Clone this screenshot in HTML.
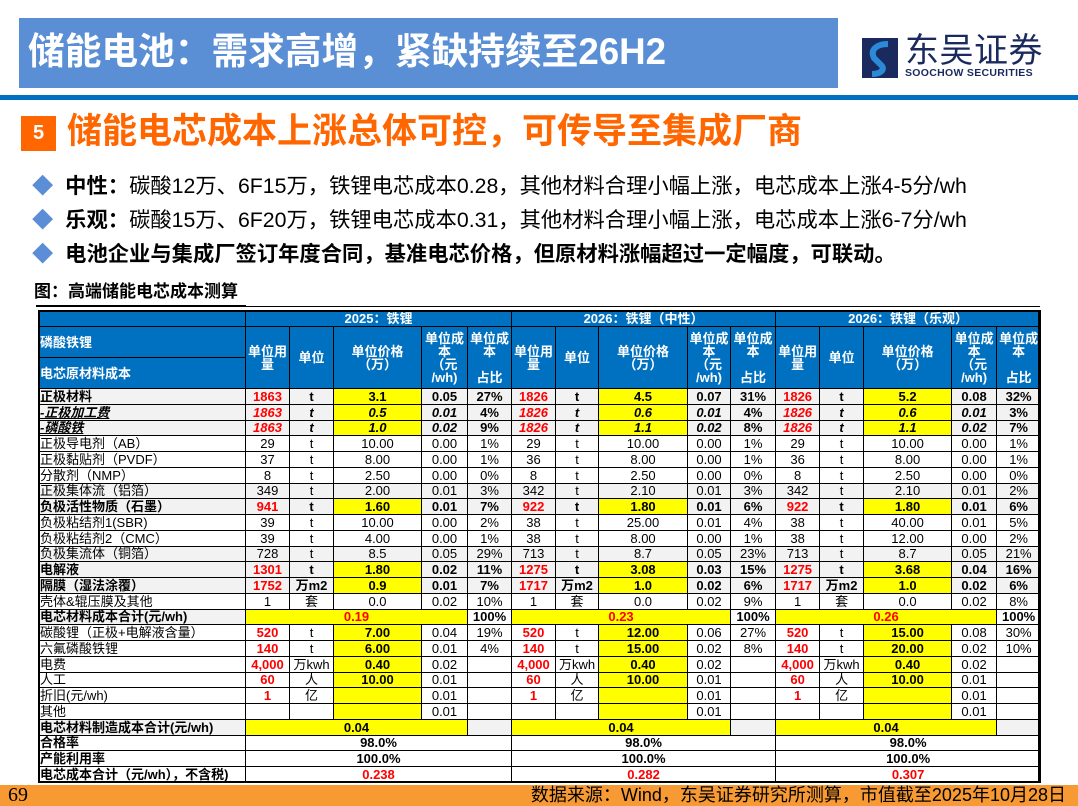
<!DOCTYPE html>
<html><head><meta charset="utf-8">
<style>
*{margin:0;padding:0;box-sizing:border-box}
body{width:1078px;height:806px;background:#fff;position:relative;overflow:hidden;font-family:"Liberation Sans","Noto Sans CJK SC",sans-serif}
.abs{position:absolute}
#tb{position:absolute;left:38px;top:310px;border-collapse:collapse;table-layout:fixed;width:1002px;font-size:13px}
#tb td{border:1px solid #000;height:15px;line-height:11px;text-align:center;white-space:nowrap;overflow:hidden;padding:0}
#tb tr{height:15.75px}
#tb td.l{text-align:left;padding-left:1px}
#tb .h{background:#0070C0;color:#fff;font-weight:bold;line-height:13px}
.r{color:#f00}.b{font-weight:bold}.i{font-style:italic}.y{background:#ff0}.g{background:#f2f2f2}
</style></head><body>
<div class="abs" style="left:19px;top:18px;width:819px;height:70px;background:#5A8FD6"></div>
<div class="abs" style="left:28px;top:30px;color:#fff;font-size:36.7px;font-weight:bold;line-height:44px">储能电池：需求高增，紧缺持续至26H2</div>
<div class="abs" style="left:862px;top:38px;width:36px;height:40px;background:#1a2a5e"></div>
<svg class="abs" style="left:862px;top:38px" width="36" height="40"><path d="M26 6 C14 6 8 12 12 20 L20 28 C23 32 18 36 10 36" stroke="#2a8ad8" stroke-width="6" fill="none"/></svg>
<div class="abs" style="left:905px;top:33px;color:#1a2a5e;font-size:34px;line-height:36px;letter-spacing:0.5px">东吴证券</div>
<div class="abs" style="left:905px;top:68px;color:#1a2a5e;font-size:10.5px;font-weight:bold;line-height:11px;letter-spacing:0.3px">SOOCHOW SECURITIES</div>
<div class="abs" style="left:0;top:95px;width:1078px;height:5px;background:#0070C0"></div>
<div class="abs" style="left:21px;top:116px;width:35px;height:35px;background:#FF6600;color:#fff;font-weight:bold;font-size:20px;text-align:center;line-height:35px">5</div>
<div class="abs" style="left:67px;top:111px;color:#FF6600;font-size:35px;font-weight:bold;line-height:42px">储能电芯成本上涨总体可控，可传导至集成厂商</div>
<div class="abs" style="left:32px;top:172px;font-size:21.3px;line-height:28px;color:#000;white-space:nowrap">
<div style="height:34px"><span style="color:#5B8ED6">◆</span>&nbsp; <b>中性：</b>碳酸12万、6F15万，铁锂电芯成本0.28，其他材料合理小幅上涨，电芯成本上涨4-5分/wh</div>
<div style="height:34px"><span style="color:#5B8ED6">◆</span>&nbsp; <b>乐观：</b>碳酸15万、6F20万，铁锂电芯成本0.31，其他材料合理小幅上涨，电芯成本上涨6-7分/wh</div>
<div><span style="color:#5B8ED6">◆</span>&nbsp; <b>电池企业与集成厂签订年度合同，基准电芯价格，但原材料涨幅超过一定幅度，可联动。</b></div>
</div>
<div class="abs" style="left:34px;top:281px;font-size:17px;font-weight:bold;line-height:22px">图：高端储能电芯成本测算</div>
<div class="abs" style="left:36px;top:306px;width:1004px;height:1px;background:#000"></div>
<div class="abs" style="left:36px;top:305px;width:210px;height:2px;background:#000"></div>
<table id="tb">
<colgroup><col style="width:207px"><col style="width:44px"><col style="width:44px"><col style="width:88px"><col style="width:46px"><col style="width:44px"><col style="width:44px"><col style="width:43px"><col style="width:89px"><col style="width:43px"><col style="width:45px"><col style="width:44px"><col style="width:44px"><col style="width:88px"><col style="width:45px"><col style="width:44px"></colgroup>
<tr style="height:16px"><td class="h"></td><td class="h" colspan="5">2025：铁锂</td><td class="h" colspan="5">2026：铁锂（中性）</td><td class="h" colspan="5">2026：铁锂（乐观）</td></tr>
<tr style="height:31px"><td class="h l" style="height:30px">磷酸铁锂</td>
<td class="h" rowspan="2">单位用<br>量</td><td class="h" rowspan="2">单位</td><td class="h" rowspan="2">单位价格<br>（万）</td><td class="h" rowspan="2">单位成<br>本<br>（元<br>/wh)</td><td class="h" rowspan="2">单位成<br>本<br><br>占比</td>
<td class="h" rowspan="2">单位用<br>量</td><td class="h" rowspan="2">单位</td><td class="h" rowspan="2">单位价格<br>（万）</td><td class="h" rowspan="2">单位成<br>本<br>（元<br>/wh)</td><td class="h" rowspan="2">单位成<br>本<br><br>占比</td>
<td class="h" rowspan="2">单位用<br>量</td><td class="h" rowspan="2">单位</td><td class="h" rowspan="2">单位价格<br>（万）</td><td class="h" rowspan="2">单位成<br>本<br>（元<br>/wh)</td><td class="h" rowspan="2">单位成<br>本<br><br>占比</td></tr>
<tr style="height:31px"><td class="h l" style="height:30px">电芯原材料成本</td></tr>
<tr class="g b"><td class="l">正极材料</td><td class="r">1863</td><td>t</td><td class="y">3.1</td><td>0.05</td><td>27%</td><td class="r">1826</td><td>t</td><td class="y">4.5</td><td>0.07</td><td>31%</td><td class="r">1826</td><td>t</td><td class="y">5.2</td><td>0.08</td><td>32%</td></tr>
<tr class="g b i"><td class="l"><u>-正极加工费</u></td><td class="r">1863</td><td>t</td><td class="y">0.5</td><td>0.01</td><td style="font-style:normal">4%</td><td class="r">1826</td><td>t</td><td class="y">0.6</td><td>0.01</td><td style="font-style:normal">4%</td><td class="r">1826</td><td>t</td><td class="y">0.6</td><td>0.01</td><td style="font-style:normal">3%</td></tr>
<tr class="g b i"><td class="l"><u>-磷酸铁</u></td><td class="r">1863</td><td>t</td><td class="y">1.0</td><td>0.02</td><td style="font-style:normal">9%</td><td class="r">1826</td><td>t</td><td class="y">1.1</td><td>0.02</td><td style="font-style:normal">8%</td><td class="r">1826</td><td>t</td><td class="y">1.1</td><td>0.02</td><td style="font-style:normal">7%</td></tr>
<tr><td class="l">正极导电剂（AB）</td><td>29</td><td>t</td><td>10.00</td><td>0.00</td><td>1%</td><td>29</td><td>t</td><td>10.00</td><td>0.00</td><td>1%</td><td>29</td><td>t</td><td>10.00</td><td>0.00</td><td>1%</td></tr>
<tr><td class="l">正极黏贴剂（PVDF）</td><td>37</td><td>t</td><td>8.00</td><td>0.00</td><td>1%</td><td>36</td><td>t</td><td>8.00</td><td>0.00</td><td>1%</td><td>36</td><td>t</td><td>8.00</td><td>0.00</td><td>1%</td></tr>
<tr><td class="l">分散剂（NMP）</td><td>8</td><td>t</td><td>2.50</td><td>0.00</td><td>0%</td><td>8</td><td>t</td><td>2.50</td><td>0.00</td><td>0%</td><td>8</td><td>t</td><td>2.50</td><td>0.00</td><td>0%</td></tr>
<tr class="g"><td class="l">正极集体流（铝箔）</td><td>349</td><td>t</td><td>2.00</td><td>0.01</td><td>3%</td><td>342</td><td>t</td><td>2.10</td><td>0.01</td><td>3%</td><td>342</td><td>t</td><td>2.10</td><td>0.01</td><td>2%</td></tr>
<tr class="g b"><td class="l">负极活性物质（石墨）</td><td class="r">941</td><td>t</td><td class="y">1.60</td><td>0.01</td><td>7%</td><td class="r">922</td><td>t</td><td class="y">1.80</td><td>0.01</td><td>6%</td><td class="r">922</td><td>t</td><td class="y">1.80</td><td>0.01</td><td>6%</td></tr>
<tr><td class="l">负极粘结剂1(SBR)</td><td>39</td><td>t</td><td>10.00</td><td>0.00</td><td>2%</td><td>38</td><td>t</td><td>25.00</td><td>0.01</td><td>4%</td><td>38</td><td>t</td><td>40.00</td><td>0.01</td><td>5%</td></tr>
<tr><td class="l">负极粘结剂2（CMC）</td><td>39</td><td>t</td><td>4.00</td><td>0.00</td><td>1%</td><td>38</td><td>t</td><td>8.00</td><td>0.00</td><td>1%</td><td>38</td><td>t</td><td>12.00</td><td>0.00</td><td>2%</td></tr>
<tr class="g"><td class="l">负极集流体（铜箔）</td><td>728</td><td>t</td><td>8.5</td><td>0.05</td><td>29%</td><td>713</td><td>t</td><td>8.7</td><td>0.05</td><td>23%</td><td>713</td><td>t</td><td>8.7</td><td>0.05</td><td>21%</td></tr>
<tr class="g b"><td class="l">电解液</td><td class="r">1301</td><td>t</td><td class="y">1.80</td><td>0.02</td><td>11%</td><td class="r">1275</td><td>t</td><td class="y">3.08</td><td>0.03</td><td>15%</td><td class="r">1275</td><td>t</td><td class="y">3.68</td><td>0.04</td><td>16%</td></tr>
<tr class="g b"><td class="l">隔膜（湿法涂覆）</td><td class="r">1752</td><td>万m2</td><td class="y">0.9</td><td>0.01</td><td>7%</td><td class="r">1717</td><td>万m2</td><td class="y">1.0</td><td>0.02</td><td>6%</td><td class="r">1717</td><td>万m2</td><td class="y">1.0</td><td>0.02</td><td>6%</td></tr>
<tr><td class="l">壳体&amp;辊压膜及其他</td><td>1</td><td>套</td><td>0.0</td><td>0.02</td><td>10%</td><td>1</td><td>套</td><td>0.0</td><td>0.02</td><td>9%</td><td>1</td><td>套</td><td>0.0</td><td>0.02</td><td>8%</td></tr>
<tr class="b"><td class="l g">电芯材料成本合计(元/wh)</td><td class="y r" colspan="4">0.19</td><td>100%</td><td class="y r" colspan="4">0.23</td><td>100%</td><td class="y r" colspan="4">0.26</td><td>100%</td></tr>
<tr><td class="l">碳酸锂（正极+电解液含量）</td><td class="r b">520</td><td>t</td><td class="y b">7.00</td><td>0.04</td><td>19%</td><td class="r b">520</td><td>t</td><td class="y b">12.00</td><td>0.06</td><td>27%</td><td class="r b">520</td><td>t</td><td class="y b">15.00</td><td>0.08</td><td>30%</td></tr>
<tr><td class="l">六氟磷酸铁锂</td><td class="r b">140</td><td>t</td><td class="y b">6.00</td><td>0.01</td><td>4%</td><td class="r b">140</td><td>t</td><td class="y b">15.00</td><td>0.02</td><td>8%</td><td class="r b">140</td><td>t</td><td class="y b">20.00</td><td>0.02</td><td>10%</td></tr>
<tr><td class="l">电费</td><td class="r b">4,000</td><td>万kwh</td><td class="y b">0.40</td><td>0.02</td><td></td><td class="r b">4,000</td><td>万kwh</td><td class="y b">0.40</td><td>0.02</td><td></td><td class="r b">4,000</td><td>万kwh</td><td class="y b">0.40</td><td>0.02</td><td></td></tr>
<tr><td class="l">人工</td><td class="r b">60</td><td>人</td><td class="y b">10.00</td><td>0.01</td><td></td><td class="r b">60</td><td>人</td><td class="y b">10.00</td><td>0.01</td><td></td><td class="r b">60</td><td>人</td><td class="y b">10.00</td><td>0.01</td><td></td></tr>
<tr><td class="l">折旧(元/wh)</td><td class="r b">1</td><td>亿</td><td class="y"></td><td>0.01</td><td></td><td class="r b">1</td><td>亿</td><td class="y"></td><td>0.01</td><td></td><td class="r b">1</td><td>亿</td><td class="y"></td><td>0.01</td><td></td></tr>
<tr><td class="l">其他</td><td></td><td></td><td class="y"></td><td>0.01</td><td></td><td></td><td></td><td class="y"></td><td>0.01</td><td></td><td></td><td></td><td class="y"></td><td>0.01</td><td></td></tr>
<tr class="b"><td class="l g">电芯材料制造成本合计(元/wh)</td><td class="y" colspan="4">0.04</td><td class="g"></td><td class="y" colspan="4">0.04</td><td class="g"></td><td class="y" colspan="4">0.04</td><td class="g"></td></tr>
<tr class="b"><td class="l">合格率</td><td colspan="5">98.0%</td><td colspan="5">98.0%</td><td colspan="5">98.0%</td></tr>
<tr class="b"><td class="l">产能利用率</td><td colspan="5">100.0%</td><td colspan="5">100.0%</td><td colspan="5">100.0%</td></tr>
<tr class="b"><td class="l">电芯成本合计（元/wh），不含税)</td><td class="r" colspan="5">0.238</td><td class="r" colspan="5">0.282</td><td class="r" colspan="5">0.307</td></tr>
</table>
<div class="abs" style="left:38px;top:310px;width:1002px;height:473px;border:2px solid #000;pointer-events:none"></div>
<div class="abs" style="left:0;top:785px;width:1078px;height:21px;background:#F79A33"></div>
<div class="abs" style="left:8px;top:785px;font-family:'Liberation Serif',serif;font-size:20px;line-height:21px">69</div>
<div class="abs" style="right:12px;top:784px;font-size:18px;line-height:22px;white-space:nowrap">数据来源：Wind，东吴证券研究所测算，市值截至2025年10月28日</div>
</body></html>
